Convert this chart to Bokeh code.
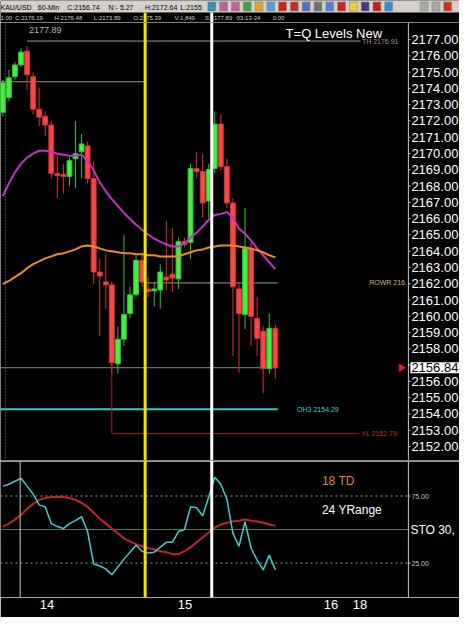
import numpy as np
from bokeh.plotting import figure
from bokeh.models import (Range1d, FixedTicker, CustomJSTickFormatter, Span, Label,
                          ColumnDataSource)
from bokeh.layouts import column
from bokeh.embed import file_html
from bokeh.resources import INLINE
from bokeh.core.properties import value

FONT = "Liberation Sans"

# ---------------- data ----------------
bar_index = list(range(46))
opens = [2172.53, 2173.44, 2174.72, 2175.44, 2176.29, 2174.72, 2172.72, 2172.29, 2171.75, 2168.78,
         2168.72, 2168.59, 2169.68, 2170.11, 2170.47, 2168.47, 2162.72, 2162.11, 2161.93, 2157.08,
         2158.59, 2160.17, 2161.32, 2163.44, 2161.68, 2161.56, 2161.62, 2162.41, 2162.59, 2162.29,
         2164.59, 2164.53, 2169.08, 2168.90, 2167.08, 2169.08, 2171.81, 2169.20, 2166.96, 2161.68,
         2160.11, 2164.17, 2159.87, 2159.08, 2156.78, 2159.26]
highs = [2174.53, 2175.14, 2175.62, 2176.47, 2176.59, 2175.02, 2174.05, 2172.59, 2171.99, 2169.99,
         2169.38, 2169.81, 2171.99, 2171.20, 2170.72, 2169.50, 2163.50, 2163.81, 2162.11, 2159.38,
         2165.02, 2161.81, 2163.75, 2163.93, 2162.41, 2162.11, 2163.20, 2165.87, 2165.44, 2164.84,
         2164.84, 2169.38, 2170.11, 2169.99, 2169.38, 2172.59, 2172.41, 2169.68, 2167.26, 2162.11,
         2166.65, 2164.53, 2161.20, 2159.38, 2160.17, 2159.50]
lows = [2172.29, 2173.20, 2174.53, 2175.32, 2173.93, 2172.41, 2171.68, 2171.08, 2168.47, 2167.26,
        2167.56, 2167.99, 2167.87, 2168.47, 2168.17, 2161.99, 2158.78, 2160.47, 2156.53, 2156.47,
        2158.17, 2159.87, 2161.20, 2161.81, 2161.20, 2160.59, 2160.47, 2161.62, 2161.50, 2161.68,
        2164.23, 2163.50, 2168.47, 2166.05, 2166.05, 2168.78, 2168.96, 2166.65, 2157.56, 2156.53,
        2159.20, 2158.17, 2157.56, 2155.26, 2156.47, 2156.17]
closes = [2174.35, 2174.65, 2175.44, 2176.23, 2174.84, 2172.72, 2172.23, 2171.75, 2168.78, 2168.65,
          2168.59, 2169.56, 2169.99, 2170.59, 2168.47, 2162.72, 2162.47, 2161.93, 2157.14, 2158.59,
          2160.11, 2161.32, 2163.44, 2162.11, 2161.50, 2161.68, 2162.72, 2162.23, 2162.35, 2164.59,
          2164.41, 2169.08, 2168.90, 2166.96, 2169.02, 2171.81, 2169.20, 2166.96, 2161.81, 2160.17,
          2164.17, 2159.99, 2158.65, 2156.78, 2159.26, 2156.84]
ma_fast = [2167.38, 2168.17, 2168.84, 2169.38, 2169.75, 2169.99, 2170.17, 2170.17, 2170.11, 2169.99,
           2169.93, 2169.87, 2169.87, 2169.93, 2169.56, 2168.96, 2168.23, 2167.68, 2167.20, 2166.78,
           2166.35, 2165.99, 2165.62, 2165.32, 2165.02, 2164.78, 2164.59, 2164.41, 2164.29, 2164.29,
           2164.47, 2164.84, 2165.14, 2165.50, 2165.93, 2166.23, 2166.29, 2166.41, 2166.05, 2165.38,
           2165.08, 2164.65, 2164.17, 2163.75, 2163.32, 2162.90]
ma_slow = [2161.99, 2162.17, 2162.41, 2162.65, 2162.96, 2163.20, 2163.38, 2163.56, 2163.68, 2163.81,
           2163.87, 2163.99, 2164.11, 2164.29, 2164.35, 2164.29, 2164.17, 2164.05, 2163.99, 2163.93,
           2163.87, 2163.87, 2163.81, 2163.81, 2163.75, 2163.75, 2163.68, 2163.68, 2163.68, 2163.68,
           2163.81, 2163.93, 2164.05, 2164.11, 2164.23, 2164.29, 2164.35, 2164.35, 2164.35, 2164.29,
           2164.23, 2164.17, 2164.05, 2163.93, 2163.75, 2163.62]
sto_k = [82.4, 83.8, 86.0, 88.2, 82.4, 76.5, 68.4, 66.9, 54.4, 52.2,
         50.7, 54.4, 56.6, 59.6, 48.5, 24.3, 22.8, 20.6, 16.2, 22.1,
         27.9, 33.1, 38.2, 33.8, 32.4, 33.1, 36.8, 40.4, 40.4, 48.5,
         50.0, 66.9, 66.2, 60.3, 74.3, 89.0, 83.8, 72.8, 47.1, 37.5,
         55.9, 36.0, 27.2, 19.9, 30.9, 19.9]
sto_d = [52.2, 54.4, 57.4, 61.0, 65.4, 69.1, 72.1, 73.5, 74.3, 74.3,
         74.3, 73.5, 72.1, 69.9, 66.9, 62.5, 58.1, 54.4, 50.7, 47.1,
         43.4, 41.2, 39.0, 37.5, 36.0, 35.3, 33.8, 33.1, 31.6, 31.6,
         33.8, 36.8, 40.4, 44.1, 47.8, 51.5, 53.7, 55.1, 55.9, 56.6,
         57.4, 56.6, 55.9, 55.1, 53.7, 52.9]
price_ticks = list(range(2152, 2178))
sto_ticks = [25, 75]
day_tick_pos = [7.3, 30.1, 54.2, 59.0]
day_labels = ["14", "15", "16", "18"]

level_th = 2176.91
level_upper = 2174.41
level_rowr = 2162.05
level_oh3 = 2154.29
level_yl = 2152.79
last_price = 2156.84
session_high = 2177.89
marker_yellow = 23.5
marker_white = 34.5
day_line = 2.86
dotted_line = 0.42

hdr_row1 = ["KAU/USD", "60-Min", "C:2156.74", "N:- 5.27", "H:2172.64", "L:2155"]
hdr_row2 = ["1:00", "C:2176.19", "H:2176.48", "L:2173.89", "O:2175.39", "V:1,849", "S:2177.89",
            "03-13-24", "0:00"]

# ---------------- layout constants ----------------
W = 459
HDR_H = 22
PRICE_H = 438
OSC_H = 157
X_LO, X_AX = -0.39, 66.98          # plotting area ends at the price-axis line
REF_W = 467
REF_FRAME_W = 415
X_FULL = X_LO + (X_AX - X_LO) * REF_W / REF_FRAME_W   # frame covers axis strip too
TICK_LEN = 0.35

YELLOW = "#f5e400"
RED_C = "#f24a4a"
GREEN_C = "#44ee44"
AXIS_C = "#c8c8c8"


def ref_x(i):
    return (i - X_LO) * REF_FRAME_W / (X_AX - X_LO)


def base_fig(**kw):
    f = figure(output_backend="svg", toolbar_location=None, background_fill_color="black",
               border_fill_color="black", outline_line_color=None, **kw)
    f.grid.visible = False
    return f


def lab(fig, x, y, text, color, size, **kw):
    fig.add_layout(Label(x=x, y=y, text=text, text_color=color, text_font=FONT,
                         text_font_size=size, text_baseline=kw.pop("baseline", "middle"), **kw))


# ---------------- header ----------------
h = base_fig(width=W, height=HDR_H, x_range=Range1d(0, REF_W), y_range=Range1d(22, 0),
             x_axis_location=None, y_axis_location=None, min_border=0)
h.quad(left=[0], right=[REF_W], top=[0], bottom=[12], fill_color="#d4d0c8", line_color=None)
h.text(x=[0, 38, 68, 110, 147, 183], y=[6.5] * 6, text=hdr_row1, text_font=value(FONT),
       text_font_size="7px", text_color="black", text_baseline="middle")
h.text(x=[0, 15, 55, 95, 135, 177, 208, 240, 277], y=[17.5] * 9, text=hdr_row2,
       text_font=value(FONT), text_font_size="6px", text_color="#c8c8c8", text_baseline="middle")
icon_x = [215, 227, 239, 251, 263, 275, 287, 299, 311, 323, 335, 347, 359, 371, 383, 395, 431, 443, 455]
icon_c = ["#3a8fb0", "#c060a0", "#c060a0", "#40a040", "#e0a030", "#4aa0e0", "#d02020", "#c03030",
          "#5070c0", "#707070", "#5080d0", "#d02020", "#e8d030", "#404080", "#c02020", "#3090d0",
          "#a8a8a8", "#a8a8a8", "#d03020"]
h.rect(x=icon_x, y=[6] * len(icon_x), width=8, height=9, fill_color=icon_c, line_color="#808080",
       line_width=0.5)
for loc, col in ((marker_yellow, YELLOW), (marker_white, "white")):
    h.segment(x0=[ref_x(loc)], y0=[12], x1=[ref_x(loc)], y1=[22], line_color=col, line_width=3)

# ---------------- price panel ----------------
p = base_fig(width=W, height=PRICE_H, x_range=Range1d(X_LO, X_FULL),
             y_range=Range1d(2151.14, 2178.05), x_axis_location=None, y_axis_location=None,
             min_border=0)

# price scale strip (axis line, ticks, labels) drawn through the y scale
label_ticks = [t for t in price_ticks if abs(t - last_price) > 0.5]   # hidden by the price box
p.add_layout(Span(location=X_AX, dimension="height", line_color=AXIS_C, line_width=1))
p.segment(x0=[X_AX] * len(price_ticks), y0=price_ticks, x1=[X_AX + TICK_LEN] * len(price_ticks),
          y1=price_ticks, line_color=AXIS_C)
p.text(x=[X_AX] * len(label_ticks), y=label_ticks, text=[f"{t:.2f}" for t in label_ticks],
       x_offset=3, text_font=value(FONT), text_font_size="13px", text_color="white",
       text_baseline="middle", text_align="left")

# level lines
p.segment(x0=[X_LO], y0=[level_upper], x1=[marker_yellow], y1=[level_upper], line_color="#9c9480")
p.segment(x0=[4], y0=[level_th], x1=[59.1], y1=[level_th], line_color="#a89a78")
p.segment(x0=[marker_yellow], y0=[level_rowr], x1=[45.4], y1=[level_rowr], line_color="#a89a78")
p.segment(x0=[X_LO], y0=[last_price], x1=[45.4], y1=[last_price], line_color="#8a8a8a")
p.segment(x0=[X_LO], y0=[level_oh3], x1=[45.4], y1=[level_oh3], line_color="#3cc8d0", line_width=2)
p.segment(x0=[18], y0=[level_yl], x1=[58.9], y1=[level_yl], line_color="#a82020")
p.segment(x0=[18], y0=[closes[18]], x1=[18], y1=[level_yl], line_color="#a82020")

# candles
up = [c >= o for o, c in zip(opens, closes)]
src = ColumnDataSource(dict(
    x=bar_index, h=highs, l=lows,
    top=[max(o, c) for o, c in zip(opens, closes)],
    bottom=[min(o, c) for o, c in zip(opens, closes)],
    fill=[GREEN_C if u else RED_C for u in up],
    edge=[("#30c030" if u else "#d83030") for u in up],
))
p.segment(x0="x", y0="h", x1="x", y1="l", line_color="edge", line_width=1, source=src)
p.vbar(x="x", width=0.8, top="top", bottom="bottom", fill_color="fill", line_color="edge",
       line_width=1, source=src)

# moving averages
p.line(bar_index, ma_fast, line_color="#c431c4", line_width=2)
p.line(bar_index, ma_slow, line_color="#ee8a2c", line_width=2)

# markers
p.add_layout(Span(location=dotted_line, dimension="height", line_color="#8c8c8c",
                  line_dash="1 2", line_width=1))
p.add_layout(Span(location=marker_yellow, dimension="height", line_color=YELLOW, line_width=3))
p.add_layout(Span(location=marker_white, dimension="height", line_color="white", line_width=3))
p.scatter(x=[65.8], y=[closes[-1]], marker="triangle", angle=-np.pi / 2, size=7,
          fill_color="#e02020", line_color="#e02020")

lab(p, 46.7, 2177.38, "T=Q Levels New", "white", "13px")
lab(p, 59.3, level_th, "TH 2176.91", "#a89a78", "7px")
lab(p, 4.3, session_high, "2177.89", "#b8b8b8", "9px", baseline="top", y_offset=-2)
lab(p, 60.5, level_rowr, "ROWR 216", "#c8b878", "7px")
lab(p, 48.6, level_oh3, "OH3 2154.29", "#40d0d0", "7px")
lab(p, 59.2, level_yl, "YL 2152.79", "#c03030", "7px")
p.add_layout(Label(x=X_AX, x_offset=2, y=last_price, text=f"{last_price:.2f}",
                   text_color="black", text_font=FONT, text_font_size="13px",
                   text_baseline="middle", background_fill_color="white",
                   background_fill_alpha=1.0, padding=1))

# ---------------- oscillator panel ----------------
q = base_fig(width=W, height=OSC_H, x_range=p.x_range, y_range=Range1d(-0.74, 101.5),
             x_axis_location="below", y_axis_location=None, min_border_left=0,
             min_border_right=0, min_border_top=0, min_border_bottom=20)

axb = q.xaxis[0]
axb.ticker = FixedTicker(ticks=day_tick_pos)
axb.formatter = CustomJSTickFormatter(args=dict(pos=day_tick_pos, lab=day_labels), code="""
    let best = 0, bd = 1e9;
    for (let i = 0; i < pos.length; i++) {
        const d = Math.abs(pos[i] - tick);
        if (d < bd) { bd = d; best = i; }
    }
    return lab[best];
""")
axb.major_label_text_color = "white"
axb.major_label_text_font = FONT
axb.major_label_text_font_size = "13px"
axb.axis_line_color = "#a8a8a8"
axb.major_tick_line_color = None
axb.minor_tick_line_color = None
axb.major_tick_out = 0
axb.major_tick_in = 0
axb.major_label_standoff = 2

# oscillator scale strip
q.add_layout(Span(location=X_AX, dimension="height", line_color=AXIS_C, line_width=1))
q.segment(x0=[X_AX] * 2, y0=sto_ticks, x1=[X_AX + TICK_LEN] * 2, y1=sto_ticks, line_color=AXIS_C)
q.text(x=[X_AX] * 2, y=sto_ticks, text=[f"{t:.2f}" for t in sto_ticks], x_offset=3,
       text_font=value(FONT), text_font_size="7px", text_color="#c0c0c0",
       text_baseline="middle", text_align="left")

q.segment(x0=[X_LO] * 2, y0=sto_ticks, x1=[X_AX] * 2, y1=sto_ticks, line_color="#a0a0a0",
          line_dash="2 3", line_width=1)
q.segment(x0=[X_LO], y0=[50], x1=[X_AX], y1=[50], line_color="#4a7a4a", line_width=1)
q.add_layout(Span(location=100.8, dimension="width", line_color="#a8a8a8", line_width=1))
q.add_layout(Span(location=day_line, dimension="height", line_color="#c8c8c8", line_width=1))

q.line(bar_index, sto_d, line_color="#c02626", line_width=2)
q.line(bar_index, sto_k, line_color="#4cc8cc", line_width=1.5)

q.add_layout(Span(location=marker_yellow, dimension="height", line_color=YELLOW, line_width=3))
q.add_layout(Span(location=marker_white, dimension="height", line_color="white", line_width=3))

lab(q, 52.7, 86, "18 TD", "#e8804a", "12px")
lab(q, 52.7, 64.5, "24 YRange", "white", "12px")
lab(q, X_AX, 50, "STO  30,", "white", "12px", x_offset=2)

layout = column(h, p, q, spacing=0)
open("out.html", "w").write(file_html(layout, INLINE))
